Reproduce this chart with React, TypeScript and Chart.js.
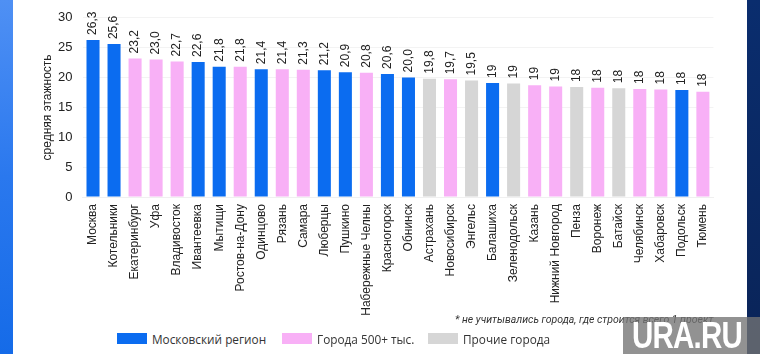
import React, { useEffect, useRef } from "react";
import { Chart, registerables } from "chart.js";

Chart.register(...registerables);

const cities = [
  "Москва", "Котельники", "Екатеринбург", "Уфа", "Владивосток", "Ивантеевка", "Мытищи",
  "Ростов-на-Дону", "Одинцово", "Рязань", "Самара", "Люберцы", "Пушкино", "Набережные Челны",
  "Красногорск", "Обнинск", "Астрахань", "Новосибирск", "Энгельс", "Балашиха", "Зеленодольск",
  "Казань", "Нижний Новгород", "Пенза", "Воронеж", "Батайск", "Челябинск", "Хабаровск",
  "Подольск", "Тюмень",
];

const values = [
  26.3, 25.6, 23.2, 23.0, 22.7, 22.6, 21.8, 21.8, 21.4, 21.4, 21.3, 21.2, 20.9, 20.8, 20.6,
  20.0, 19.8, 19.7, 19.5, 19.1, 19.0, 18.7, 18.5, 18.4, 18.3, 18.2, 18.1, 18.0, 17.9, 17.6,
];

const valueLabels = [
  "26,3", "25,6", "23,2", "23,0", "22,7", "22,6", "21,8", "21,8", "21,4", "21,4", "21,3",
  "21,2", "20,9", "20,8", "20,6", "20,0", "19,8", "19,7", "19,5", "19", "19", "19", "19",
  "18", "18", "18", "18", "18", "18", "18",
];

// 0 = Московский регион, 1 = Города 500+ тыс., 2 = Прочие города
const groups = [
  0, 0, 1, 1, 1, 0, 0, 1, 0, 1, 1, 0, 0, 1, 0, 0, 2, 1, 2, 0, 2, 1, 1, 2, 1, 2, 1, 1, 0, 1,
];

const groupNames = ["Московский регион", "Города 500+ тыс.", "Прочие города"];
const groupColors = ["#0b6cf0", "#f8b0f6", "#d6d6d6"];

const yTicks = [0, 5, 10, 15, 20, 25, 30];
const yTitle = "средняя этажность";
const footnote = "* не учитывались города, где строится всего 1 проект";

const FONT = "'Liberation Sans', Arial, sans-serif";

const valueLabelPlugin = {
  id: "valueLabels",
  afterDatasetsDraw(chart: any) {
    const ctx = chart.ctx;
    const meta = chart.getDatasetMeta(0);
    ctx.save();
    ctx.font = `12px ${FONT}`;
    ctx.fillStyle = "#222";
    ctx.textAlign = "left";
    ctx.textBaseline = "middle";
    meta.data.forEach((bar: any, i: number) => {
      ctx.save();
      ctx.translate(bar.x, bar.y - 5);
      ctx.rotate(-Math.PI / 2);
      ctx.fillText(valueLabels[i], 0, 0);
      ctx.restore();
    });
    ctx.restore();
  },
};

export default function App() {
  const ref = useRef<HTMLCanvasElement | null>(null);

  useEffect(() => {
    if (!ref.current) return;
    const chart = new Chart(ref.current, {
      type: "bar",
      data: {
        labels: cities,
        datasets: [
          {
            data: values,
            backgroundColor: groups.map((g) => groupColors[g]),
            barPercentage: 0.62,
            categoryPercentage: 1,
          },
        ],
      },
      options: {
        animation: false,
        responsive: true,
        maintainAspectRatio: false,
        layout: { padding: { left: 0, right: 33.6, top: 16, bottom: 0 } },
        plugins: {
          legend: { display: false },
          tooltip: { enabled: false },
        },
        scales: {
          x: {
            grid: { display: false, drawTicks: false },
            border: { color: "#f0f0f0" },
            ticks: {
              autoSkip: false,
              maxRotation: 90,
              minRotation: 90,
              padding: 7,
              color: "#222",
              font: { family: FONT, size: 12 },
            },
            afterFit: (s: any) => {
              s.height = 121;
            },
          },
          y: {
            min: 0,
            max: 30,
            afterBuildTicks: (s: any) => {
              s.ticks = yTicks.map((v) => ({ value: v }));
            },
            grid: { color: "#f3f3f3", drawTicks: false },
            border: { display: false },
            ticks: {
              padding: 10,
              color: "#222",
              font: { family: FONT, size: 13 },
            },
            title: {
              display: true,
              text: yTitle,
              color: "#222",
              font: { family: FONT, size: 12 },
              padding: { top: 27, bottom: 0 },
            },
            afterFit: (s: any) => {
              s.width = 69.5;
            },
          },
        },
      },
      plugins: [valueLabelPlugin],
    });
    return () => chart.destroy();
  }, []);

  const legendX = [117, 282, 428];

  return (
    <div
      style={{
        position: "fixed",
        left: 0,
        top: 0,
        width: 760,
        height: 354,
        background: "#ffffff",
        overflow: "hidden",
        fontFamily: FONT,
      }}
    >
      <div
        style={{
          position: "absolute",
          left: 0,
          top: 0,
          width: 13,
          height: 354,
          background: "linear-gradient(180deg, #4f90f4 0%, #2a78ee 50%, #156be8 100%)",
        }}
      />
      <div
        style={{
          position: "absolute",
          left: 747,
          top: 0,
          width: 13,
          height: 354,
          background: "linear-gradient(180deg, #0a2d6e 0%, #0a2458 100%)",
        }}
      />
      <div style={{ position: "absolute", left: 13, top: 0, width: 734, height: 318 }}>
        <canvas ref={ref} />
      </div>

      {groupNames.map((name, i) => (
        <div
          key={name}
          style={{
            position: "absolute",
            left: legendX[i],
            top: 332,
            height: 13,
            display: "flex",
            alignItems: "center",
            whiteSpace: "nowrap",
          }}
        >
          <div style={{ width: 30, height: 11, background: groupColors[i], marginRight: 5 }} />
          <span style={{ fontFamily: "'Open Sans', sans-serif", fontSize: 11.8, color: "#333" }}>
            {name}
          </span>
        </div>
      ))}

      <div
        style={{
          position: "absolute",
          left: 455,
          top: 313,
          fontFamily: "Roboto, sans-serif",
          fontStyle: "italic",
          fontSize: 10.5,
          color: "#333",
          whiteSpace: "nowrap",
        }}
      >
        {footnote}
      </div>

      <div
        style={{
          position: "absolute",
          left: 623,
          top: 317,
          width: 137,
          height: 37,
          background: "rgba(115,115,115,0.78)",
          overflow: "hidden",
        }}
      >
        <div
          style={{
            position: "absolute",
            left: 9,
            top: -2,
            color: "#ffffff",
            fontFamily: "'Liberation Sans', Arial, sans-serif",
            fontWeight: 700,
            fontSize: 36,
            letterSpacing: -1,
            transform: "scaleX(0.82)",
            transformOrigin: "left center",
            whiteSpace: "nowrap",
          }}
        >
          URA.RU
        </div>
      </div>
    </div>
  );
}
